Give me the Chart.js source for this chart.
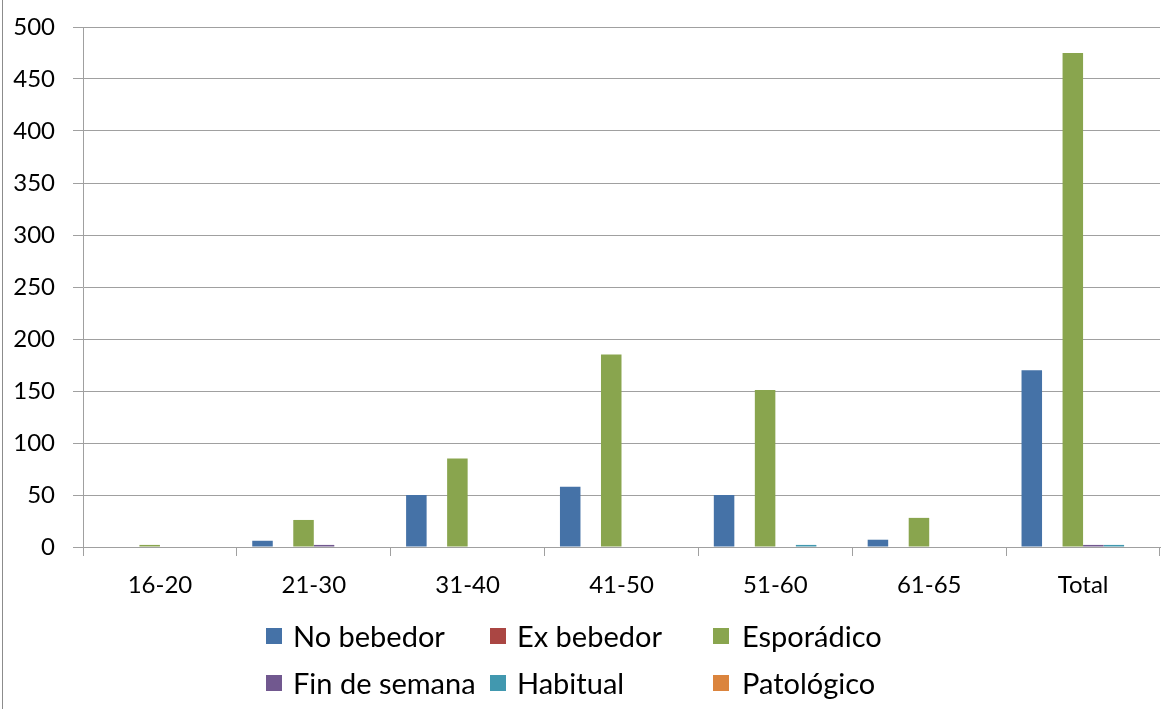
<!DOCTYPE html>
<html>
<head>
  <title>Consumo de alcohol por edad</title>
  <style>
    body {
      margin: 0;
      background: #fff;
      font-family: Lato, sans-serif;
    }
    .wrap {
      position: relative;
      width: 1167px;
      height: 709px;
    }
    .frame {
      position: absolute;
      left: 2px;
      top: 0;
      width: 1px;
      height: 709px;
      background: #8c8c8c;
    }
    .legend-item {
      position: absolute;
      font-size: 29px;
      line-height: 32px;
      color: #000;
      white-space: nowrap;
    }
    .legend-item span.box {
      position: absolute;
      left: 0;
      top: 8px;
      width: 16px;
      height: 16px;
    }
    .legend-item span.txt {
      position: absolute;
      white-space: nowrap;
    }
  </style>
  <script src="https://cdn.jsdelivr.net/npm/chart.js"></script>
</head>
<body>
  <div class="wrap">
    <canvas id="chart" width="1167" height="709"></canvas>
    <div class="frame"></div>
    <div id="legend"></div>
  </div>
  <script>
    // Chart data
    const categories = ['16-20', '21-30', '31-40', '41-50', '51-60', '61-65', 'Total'];
    const seriesNames = ['No bebedor', 'Ex bebedor', 'Esporádico', 'Fin de semana', 'Habitual', 'Patológico'];
    const seriesColors = ['#4572A7', '#AA4643', '#89A54E', '#71588F', '#4198AF', '#DB843D'];

    const noBebedor = [0, 6, 50, 58, 50, 7, 170];
    const exBebedor = [0, 0, 0, 0, 0, 0, 0];
    const esporadico = [2, 26, 85, 185, 151, 28, 475];
    const finDeSemana = [0, 2, 0, 0, 0, 0, 2];
    const habitual = [0, 0, 0, 0, 2, 0, 2];
    const patologico = [0, 0, 0, 0, 0, 0, 0];

    const yTicks = [0, 50, 100, 150, 200, 250, 300, 350, 400, 450, 500];

    const seriesValues = [noBebedor, exBebedor, esporadico, finDeSemana, habitual, patologico];

    const axisColor = '#a0a0a0';
    const tickFont = { family: 'Lato', size: 24 };

    const ctx = document.getElementById('chart').getContext('2d');
    new Chart(ctx, {
      type: 'bar',
      data: {
        labels: categories,
        datasets: seriesNames.map((name, i) => ({
          label: name,
          data: seriesValues[i],
          backgroundColor: seriesColors[i],
          categoryPercentage: 0.8,
          barPercentage: 1.0
        }))
      },
      options: {
        responsive: false,
        animation: false,
        layout: {
          padding: { left: 0, top: 27, right: 7, bottom: 104 }
        },
        plugins: {
          legend: { display: false },
          tooltip: { enabled: false }
        },
        scales: {
          x: {
            grid: {
              offset: true,
              drawOnChartArea: false,
              tickLength: 9,
              color: axisColor
            },
            border: { color: axisColor },
            ticks: {
              color: '#000',
              font: tickFont,
              padding: 15,
              maxRotation: 0
            },
            afterFit: scale => { scale.height = 58; scale.paddingLeft = 0; scale.paddingRight = 0; }
          },
          y: {
            min: 0,
            max: 500,
            afterBuildTicks: scale => { scale.ticks = yTicks.map(v => ({ value: v })); },
            grid: {
              tickLength: 10,
              color: axisColor
            },
            border: { color: axisColor },
            ticks: {
              color: '#000',
              font: tickFont,
              padding: 18
            },
            afterFit: scale => { scale.width = 83; scale.paddingTop = 0; scale.paddingBottom = 0; }
          }
        }
      }
    });

    // Legend laid out in Excel-like columns
    const legendCols = [266, 490, 713];
    const legendRows = [620, 667];
    const legend = document.getElementById('legend');
    seriesNames.forEach((name, i) => {
      const item = document.createElement('div');
      item.className = 'legend-item';
      item.style.left = legendCols[i % 3] + 'px';
      item.style.top = legendRows[Math.floor(i / 3)] + 'px';
      item.innerHTML = '<span class="box" style="background:' + seriesColors[i] + '"></span>' +
        '<span class="txt" style="left:' + (i % 3 === 2 ? 29 : 27) + 'px">' + name + '</span>';
      legend.appendChild(item);
    });
  </script>
</body>
</html>
